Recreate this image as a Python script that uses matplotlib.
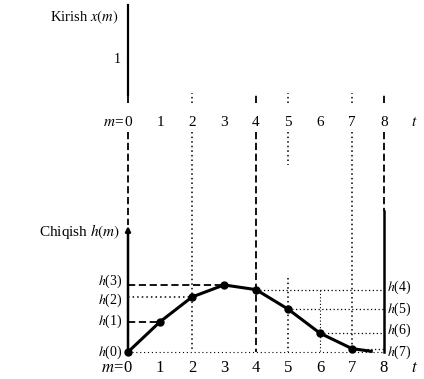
import matplotlib.pyplot as plt

plt.rcParams['font.family'] = ['Liberation Serif', 'DejaVu Serif']
plt.rcParams['mathtext.fontset'] = 'stix'

# impulse response samples h(m), m = 0..7, plus the tail where it dies out
m_vals = [0, 1, 2, 3, 4, 5, 6, 7]
h_vals = [0.0, 0.45, 0.82, 1.0, 0.93, 0.64, 0.28, 0.05]
tail_m = [7.6]
tail_h = [0.01]
tick_labels = ["0", "1", "2", "3", "4", "5", "6", "7", "8"]
left_idx = [0, 1, 2, 3]
right_idx = [4, 5, 6, 7]

fig = plt.figure(figsize=(4.24, 3.79), dpi=100)
ax = fig.add_axes([0, 0, 1, 1])
ax.set_xlim(-4.0, 9.25)
ax.set_ylim(-0.403, 5.25)
ax.axis('off')

# y levels of the two panels
row_top = 3.43
row_bot = -0.24
top_axis = (3.84, 5.18)

# input axis (top)
ax.plot([0, 0], top_axis, color='black', lw=1.6)
ax.text(-0.3, 4.99, "Kirish $x(m)$", ha='right', va='center', fontsize=10.5)
ax.text(-0.34, 4.36, "1", ha='center', va='center', fontsize=10)

# m tick rows
for i, lab in enumerate(tick_labels):
    ax.text(i, row_top, lab, ha='center', va='center', fontsize=11)
    ax.text(i, row_bot, lab, ha='center', va='center', fontsize=12)
ax.text(-0.13, row_top, "$m$=", ha='right', va='center', fontsize=11)
ax.text(-0.13, row_bot, "$m$=", ha='right', va='center', fontsize=12)
ax.text(8.95, row_top, "$t$", ha='center', va='center', fontsize=11)
ax.text(8.95, row_bot, "$t$", ha='center', va='center', fontsize=12)

# guide lines running down from the upper tick row
dash = dict(color='black', lw=1.3, linestyle=(0, (4, 2)))
dot = dict(color='black', lw=1.1, linestyle=(0, (1, 2)))
for m in [0, 2, 4, 5, 7, 8]:
    ax.plot([m, m], [3.72, 3.86], **(dash if m in (0, 4, 8) else dot))
ax.plot([0, 0], [3.28, 1.9], **dash)
ax.plot([2, 2], [3.28, 0], **dot)
ax.plot([4, 4], [3.28, 0], **dash)
ax.plot([5, 5], [3.28, 2.79], **dot)
ax.plot([5, 5], [1.1, 0], **dot)
ax.plot([6, 6], [h_vals[4], 0], color='black', lw=0.8, linestyle=(0, (1, 2)))
ax.plot([7, 7], [3.28, 0], **dot)
ax.plot([8, 8], [3.28, 2.1], **dash)

# output axes (bottom)
ax.annotate("", xy=(0, 1.92), xytext=(0, 0),
            arrowprops=dict(arrowstyle='-|>', color='black', lw=1.8,
                            mutation_scale=7))
ax.plot([8, 8], [2.1, 0], color='black', lw=1.8)
ax.plot([0, 8], [0, 0], color='black', lw=0.8, linestyle=(0, (1, 2.5)))
ax.text(-0.25, 1.79, "Chiqish $h(m)$", ha='right', va='center', fontsize=11)

# level lines to the sample values
for i in left_idx[1:]:
    style = dot if i == 2 else dash
    ax.plot([0, m_vals[i]], [h_vals[i], h_vals[i]], **style)
for i in right_idx:
    ax.plot([m_vals[i], 8], [h_vals[i], h_vals[i]], color='black', lw=0.9,
            linestyle=(0, (1, 2)))

# value labels, nudged apart where two levels sit close together
nudge = {0: 0.0, 1: 0.0, 2: -0.05, 3: 0.05, 4: 0.03, 5: 0.0, 6: 0.04, 7: -0.05}
for i in left_idx:
    ax.text(-0.17, h_vals[i] + nudge[i], "$h$(%d)" % i, ha='right',
            va='center', fontsize=10)
for i in right_idx:
    ax.text(8.08, h_vals[i] + nudge[i], "$h$(%d)" % i, ha='left',
            va='center', fontsize=10)

# response curve with sample points
ax.plot(m_vals + tail_m, h_vals + tail_h, color='black', lw=2.2)
ax.plot(m_vals, h_vals, 'o', color='black', ms=5)

fig.savefig("out.png", dpi=100)
